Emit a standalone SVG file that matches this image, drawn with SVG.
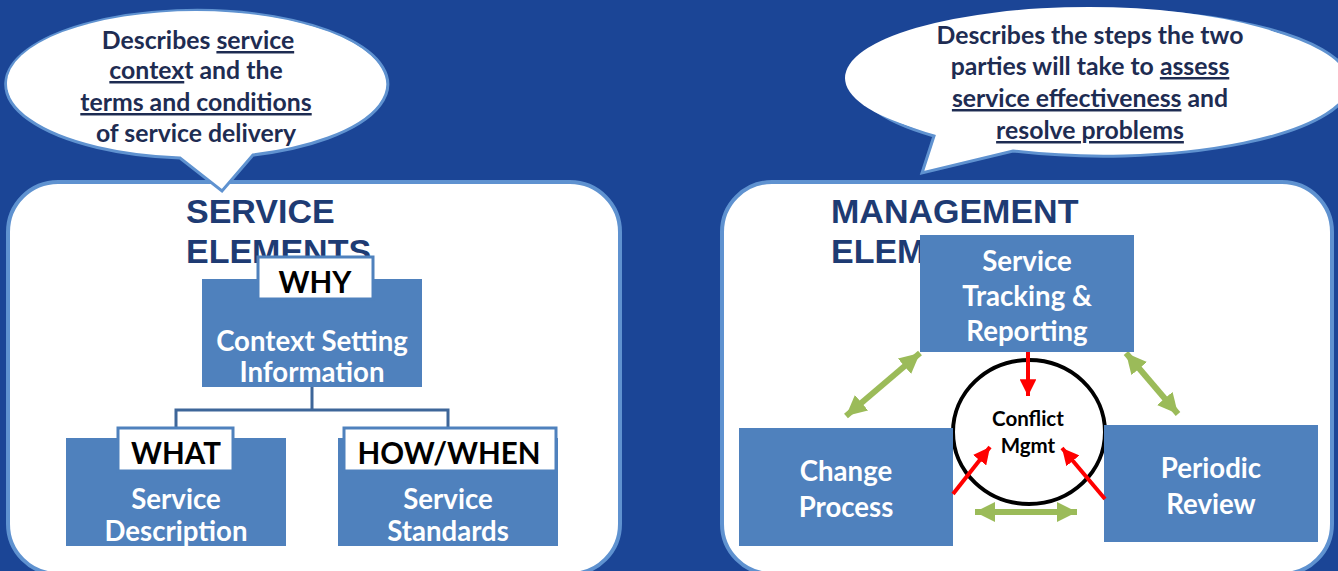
<svg xmlns="http://www.w3.org/2000/svg" width="1338" height="571" viewBox="0 0 1338 571">
  <style>
    .panel { fill: #ffffff; stroke: #5f92d0; stroke-width: 4; }
    .bubble { fill: #ffffff; stroke: #5f92d0; stroke-width: 3; }
    .btxt { font-family: Lato, "Liberation Sans", sans-serif; font-weight: bold; font-size: 24.8px; fill: #1e2c52; text-anchor: middle; }
    .u { text-decoration: underline; }
    .title { font-family: "Liberation Sans", Arial, sans-serif; font-weight: bold; font-size: 34px; fill: #1e3b73; }
    .box { fill: #4f81bd; }
    .tab { fill: #ffffff; stroke: #4f81bd; stroke-width: 3; }
    .boxtxt { font-family: Lato, "Liberation Sans", sans-serif; font-weight: bold; font-size: 27.6px; fill: #ffffff; text-anchor: middle; }
    .tabtxt { font-family: Lato, "Liberation Sans", sans-serif; font-weight: bold; font-size: 29.5px; fill: #000000; text-anchor: middle; }
    .cm { font-family: Lato, "Liberation Sans", sans-serif; font-weight: bold; font-size: 20.5px; fill: #000000; text-anchor: middle; }
    .tree { fill: none; stroke: #3e6699; stroke-width: 3; }
    .green { stroke: #9bbb59; stroke-width: 6; fill: none; marker-start: url(#gh); marker-end: url(#gh); }
    .red { stroke: #ff0000; stroke-width: 4; fill: none; marker-end: url(#rh); }
  </style>
  <defs>
    <marker id="gh" viewBox="0 0 10 10" refX="10" refY="5" markerWidth="3.4" markerHeight="3.4" orient="auto-start-reverse" markerUnits="strokeWidth">
      <path d="M0,0 L10,5 L0,10 Z" fill="#9bbb59"/>
    </marker>
    <marker id="rh" viewBox="0 0 10 10" refX="10" refY="5" markerWidth="4.2" markerHeight="4.2" orient="auto" markerUnits="strokeWidth">
      <path d="M0,0 L10,5 L0,10 Z" fill="#ff0000"/>
    </marker>
  </defs>

  <!-- background -->
  <rect x="0" y="0" width="1338" height="571" fill="#1b4596"/>

  <!-- panels -->
  <rect id="service-panel" class="panel" x="8" y="182" width="612" height="392" rx="50" ry="50"/>
  <rect id="management-panel" class="panel" x="722" y="182" width="610" height="392" rx="50" ry="50"/>

  <!-- callout bubbles -->
  <g id="service-callout">
    <path class="bubble" d="M180,158 A191,74 0 1 1 253,155 L222,191 Z"/>
    <ellipse cx="196" cy="83" rx="189" ry="72" fill="#ffffff"/>
    <text class="btxt" x="198" y="49">Describes <tspan class="u">service</tspan></text>
    <text class="btxt" x="196" y="79"><tspan class="u">contex</tspan>t and the</text>
    <text class="btxt" x="196" y="111"><tspan class="u">terms and conditions</tspan></text>
    <text class="btxt" x="196" y="142">of service delivery</text>
  </g>
  <g id="management-callout">
    <path class="bubble" d="M934,136 A246,73 0 1 1 1013,151 L922,173 Z"/>
    <ellipse cx="1089" cy="78" rx="244" ry="71" fill="#ffffff"/>
    <text class="btxt" x="1090" y="44">Describes the steps the two</text>
    <text class="btxt" x="1090" y="75">parties will take to <tspan class="u">assess</tspan></text>
    <text class="btxt" x="1090" y="107"><tspan class="u">service effectiveness</tspan> and</text>
    <text class="btxt" x="1090" y="139"><tspan class="u">resolve problems</tspan></text>
  </g>

  <!-- titles -->
  <text class="title" x="186" y="223">SERVICE</text>
  <text class="title" x="186" y="263">ELEMENTS</text>
  <text class="title" x="831" y="223">MANAGEMENT</text>
  <text class="title" x="831" y="263">ELEMENTS</text>

  <!-- connectors -->
  <g id="connectors">
    <path class="tree" d="M312,387 V410 M176,438 V410 H448 V438"/>
    <line class="green" x1="920" y1="353" x2="846" y2="416"/>
    <line class="green" x1="1126" y1="353" x2="1178" y2="414"/>
    <line class="green" x1="975" y1="512" x2="1077" y2="512"/>
  </g>

  <!-- service elements -->
  <g id="why">
    <rect class="box" x="202" y="279" width="220" height="108"/>
    <rect class="tab" x="258" y="257" width="115" height="42"/>
    <text class="tabtxt" x="315" y="293">WHY</text>
    <text class="boxtxt" x="312" y="351">Context Setting</text>
    <text class="boxtxt" x="312" y="382">Information</text>
  </g>
  <g id="what">
    <rect class="box" x="66" y="438" width="220" height="108"/>
    <rect class="tab" x="118" y="428" width="115" height="43"/>
    <text class="tabtxt" x="176" y="464">WHAT</text>
    <text class="boxtxt" x="176" y="509">Service</text>
    <text class="boxtxt" x="176" y="541">Description</text>
  </g>
  <g id="how-when">
    <rect class="box" x="338" y="438" width="220" height="108"/>
    <rect class="tab" x="344" y="428" width="212" height="43"/>
    <text class="tabtxt" x="449" y="464">HOW/WHEN</text>
    <text class="boxtxt" x="448" y="509">Service</text>
    <text class="boxtxt" x="448" y="541">Standards</text>
  </g>

  <!-- management elements -->
  <g id="conflict-mgmt">
    <ellipse cx="1029" cy="432" rx="76" ry="72" fill="#ffffff" stroke="#000000" stroke-width="4"/>
    <text class="cm" x="1028" y="426">Conflict</text>
    <text class="cm" x="1028" y="453">Mgmt</text>
  </g>
  <g id="tracking">
    <rect class="box" x="920" y="235" width="214" height="117"/>
    <text class="boxtxt" x="1027" y="271">Service</text>
    <text class="boxtxt" x="1027" y="306">Tracking &amp;</text>
    <text class="boxtxt" x="1027" y="341">Reporting</text>
  </g>
  <g id="change">
    <rect class="box" x="739" y="428" width="214" height="118"/>
    <text class="boxtxt" x="846" y="481">Change</text>
    <text class="boxtxt" x="846" y="517">Process</text>
  </g>
  <g id="review">
    <rect class="box" x="1104" y="425" width="214" height="117"/>
    <text class="boxtxt" x="1211" y="478">Periodic</text>
    <text class="boxtxt" x="1211" y="514">Review</text>
  </g>

  <g id="red-arrows">
    <line class="red" x1="1028" y1="352" x2="1028" y2="396"/>
    <line class="red" x1="953" y1="494" x2="990" y2="447"/>
    <line class="red" x1="1105" y1="499" x2="1062" y2="448"/>
  </g>
</svg>
